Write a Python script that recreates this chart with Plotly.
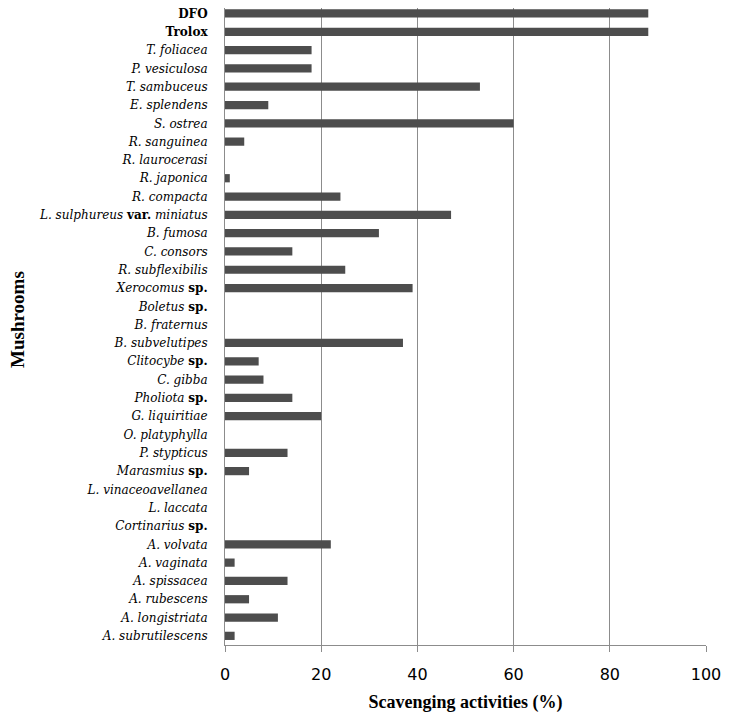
import plotly.graph_objects as go

# categories from top to bottom
mushrooms = [
    "<b>DFO</b>", "<b>Trolox</b>", "<i>T. foliacea</i>", "<i>P. vesiculosa</i>",
    "<i>T. sambuceus</i>", "<i>E. splendens</i>", "<i>S. ostrea</i>", "<i>R. sanguinea</i>",
    "<i>R. laurocerasi</i>", "<i>R. japonica</i>", "<i>R. compacta</i>",
    "<i>L. sulphureus</i> <b>var.</b> <i>miniatus</i>", "<i>B. fumosa</i>", "<i>C. consors</i>",
    "<i>R. subflexibilis</i>", "<i>Xerocomus</i> <b>sp.</b>", "<i>Boletus</i> <b>sp.</b>",
    "<i>B. fraternus</i>", "<i>B. subvelutipes</i>", "<i>Clitocybe</i> <b>sp.</b>",
    "<i>C. gibba</i>", "<i>Pholiota</i> <b>sp.</b>", "<i>G. liquiritiae</i>",
    "<i>O. platyphylla</i>", "<i>P. stypticus</i>", "<i>Marasmius</i> <b>sp.</b>",
    "<i>L. vinaceoavellanea</i>", "<i>L. laccata</i>", "<i>Cortinarius</i> <b>sp.</b>",
    "<i>A. volvata</i>", "<i>A. vaginata</i>", "<i>A. spissacea</i>", "<i>A. rubescens</i>",
    "<i>A. longistriata</i>", "<i>A. subrutilescens</i>",
]
scavenging = [
    88, 88, 18, 18, 53, 9, 60, 4,
    0, 1, 24, 47, 32, 14,
    25, 39, 0, 0, 37, 7,
    8, 14, 20, 0, 13, 5,
    0, 0, 0, 22, 2, 13, 5,
    11, 2,
]
x_ticks = [0, 20, 40, 60, 80, 100]

fig = go.Figure()
fig.add_trace(go.Bar(
    x=scavenging, y=mushrooms, orientation="h",
    marker=dict(color="#4d4d4d", line=dict(width=0)),
    showlegend=False,
))

# the page body adds an ~8px offset, so the figure is a bit smaller than the window
fig.update_layout(
    width=728, height=709,
    margin=dict(l=217, r=30, t=0, b=72),
    paper_bgcolor="white", plot_bgcolor="white",
    bargap=0.55,
    annotations=[dict(
        text="<b>Mushrooms</b>", textangle=-90,
        x=-(225 - 17) / 481, y=(645 - 320) / 637,
        xref="paper", yref="paper", xanchor="center", yanchor="middle", showarrow=False,
        font=dict(family="Liberation Serif", size=19, color="black"),
    )],
)

fig.update_xaxes(
    range=[0, 100], tickvals=x_ticks, ticks="outside", ticklen=6, tickcolor="#8c8c8c",
    showgrid=True, gridcolor="#8c8c8c", gridwidth=1,
    showline=True, linecolor="#8c8c8c", linewidth=1, zeroline=False,
    ticklabelstandoff=9, automargin=False,
    tickfont=dict(family="DejaVu Sans", size=16, color="black"),
    title=dict(text="<b>Scavenging activities (%)</b>", standoff=12,
               font=dict(family="Liberation Serif", size=18, color="black")),
)
fig.update_yaxes(
    range=[34.5, -0.3], showgrid=False, ticks="", showline=True,
    linecolor="#8c8c8c", linewidth=1, ticklabelstandoff=14, automargin=False,
    tickfont=dict(family="DejaVu Serif", size=12, color="black"),
)

fig.write_html("out.html")
